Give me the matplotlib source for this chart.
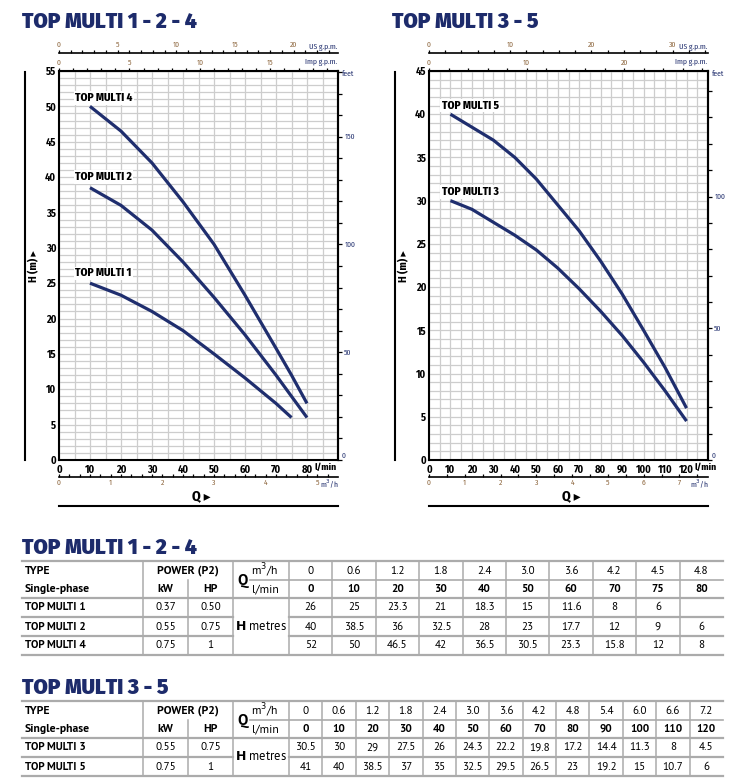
import numpy as np
import matplotlib
matplotlib.use('Agg')
import matplotlib.pyplot as plt

plt.rcParams['font.family'] = ['Fira Sans Condensed', 'DejaVu Sans']

q_m3h_a = [0, 0.6, 1.2, 1.8, 2.4, 3.0, 3.6, 4.2, 4.5, 4.8]
q_lmin_a = [0, 10, 20, 30, 40, 50, 60, 70, 75, 80]
names_a = ['TOP MULTI 1', 'TOP MULTI 2', 'TOP MULTI 4']
kw_a = ['0.37', '0.55', '0.75']
hp_a = ['0.50', '0.75', '1']
h_multi1 = [26, 25, 23.3, 21, 18.3, 15, 11.6, 8, 6, None]
h_multi2 = [40, 38.5, 36, 32.5, 28, 23, 17.7, 12, 9, 6]
h_multi4 = [52, 50, 46.5, 42, 36.5, 30.5, 23.3, 15.8, 12, 8]

q_m3h_b = [0, 0.6, 1.2, 1.8, 2.4, 3.0, 3.6, 4.2, 4.8, 5.4, 6.0, 6.6, 7.2]
q_lmin_b = [0, 10, 20, 30, 40, 50, 60, 70, 80, 90, 100, 110, 120]
names_b = ['TOP MULTI 3', 'TOP MULTI 5']
kw_b = ['0.55', '0.75']
hp_b = ['0.75', '1']
h_multi3 = [30.5, 30, 29, 27.5, 26, 24.3, 22.2, 19.8, 17.2, 14.4, 11.3, 8, 4.5]
h_multi5 = [41, 40, 38.5, 37, 35, 32.5, 29.5, 26.5, 23, 19.2, 15, 10.7, 6]

NAVY = '#1d2b6b'
CURVE = '#1f2e6e'
BROWN = '#8a6238'
GRID = '#cdcdcd'
TGREY = '#ababab'

W, H = 755, 779
fig = plt.figure(figsize=(W / 100, H / 100), dpi=100)
ov = fig.add_axes([0, 0, 1, 1], zorder=-1)
ov.set_xlim(0, W)
ov.set_ylim(H, 0)
ov.axis('off')


def rect(x0, y0, x1, y1):
    return [x0 / W, 1 - y1 / H, (x1 - x0) / W, (y1 - y0) / H]


def chart(x0, x1, q, curves, names, lab_pos, xmax, ymax, xlab_max,
          imp_step, imp_lab, us_step, us_lab, m3_step, m3_max, title):
    y0, y1 = 71, 460
    ax = fig.add_axes(rect(x0, y0, x1, y1))
    ax.set_xlim(0, xmax)
    ax.set_ylim(0, ymax)
    ax.set_xticks(np.arange(0, xlab_max + 1, 10),
                  [str(v) for v in range(0, xlab_max + 1, 10)],
                  fontweight='bold', fontsize=7.5)
    ax.set_xticks(np.arange(0, xmax + 0.1, 5), minor=True)
    ax.set_yticks(np.arange(0, ymax + 1, 5),
                  [str(v) for v in range(0, ymax + 1, 5)],
                  fontweight='bold', fontsize=7.5)
    ax.set_yticks(np.arange(0, ymax + 0.1, 1), minor=True)
    ax.grid(which='both', color=GRID, lw=0.9)
    ax.set_axisbelow(True)
    ax.tick_params(which='both', length=0, pad=2)
    ax.tick_params(axis='x', pad=3)
    for s in ax.spines.values():
        s.set_linewidth(1.5)

    for hh, nm, (lx, ly) in zip(curves, names, lab_pos):
        xs = [a for a, b in zip(q, hh) if b is not None and a > 0]
        ys = [b for a, b in zip(q, hh) if b is not None and a > 0]
        ax.plot(xs, ys, color=CURVE, lw=2.3, solid_capstyle='butt',
                solid_joinstyle='round')
        ax.text(lx, ly, nm, fontsize=8, fontweight=800, va='center',
                bbox=dict(fc='white', ec='none', pad=1))

    # feet axis (the 0 label is placed by hand, slightly raised)
    fa = ax.secondary_yaxis('right', functions=(lambda m: m * 3.28084,
                                                lambda f: f / 3.28084))
    fmax = ymax * 3.28084
    fa.set_yticks([v for v in range(50, int(fmax) + 1, 50)],
                  [str(v) for v in range(50, int(fmax) + 1, 50)],
                  fontsize=5.5, color=NAVY)
    fa.set_yticks(np.arange(0, fmax, 10), minor=True)
    fa.tick_params(which='both', direction='out', length=3, width=0.9, pad=1.5)
    fa.spines['right'].set_linewidth(1.5)

    # Imp gpm (top of frame)
    ia = ax.secondary_xaxis('top', functions=(lambda l: l / 4.546,
                                               lambda g: g * 4.546))
    imax = xmax / 4.546
    ia.set_xticks(imp_lab, [str(v) for v in imp_lab], fontsize=5.5, color=BROWN)
    ia.set_xticks(np.arange(0, imax, imp_step), minor=True)
    ia.tick_params(which='both', direction='out', length=2.5, width=0.9, pad=1)

    # US gpm (separate line above)
    ua = ax.secondary_xaxis(1 + 18 / (y1 - y0), functions=(lambda l: l / 3.785,
                                                            lambda g: g * 3.785))
    umax = xmax / 3.785
    ua.set_xticks(us_lab, [str(v) for v in us_lab], fontsize=5.5, color=BROWN)
    ua.set_xticks(np.arange(0, umax, us_step), minor=True)
    ua.tick_params(which='both', direction='out', length=2.5, width=0.9, pad=1)
    ua.spines['top'].set_linewidth(1.2)

    # m3/h below
    ma = ax.secondary_xaxis(-17 / (y1 - y0), functions=(lambda l: l * 0.06,
                                                         lambda m: m / 0.06))
    ma.set_xticks(range(0, m3_max + 1), [str(v) for v in range(0, m3_max + 1)],
                  fontsize=5.5, color=BROWN)
    ma.set_xticks(np.arange(0, xmax * 0.06, m3_step), minor=True)
    ma.tick_params(which='both', direction='in', length=2.5, width=0.9, pad=1.5)
    ma.spines['bottom'].set_linewidth(1.2)

    # unit labels and decorations
    xl = x0 + (x1 - x0) * xlab_max / xmax + 7.5
    ov.text(x1 - 1, 47, 'US g.p.m.', fontsize=5.5, color=NAVY, ha='right', va='center')
    ov.text(x1 - 1, 62, 'Imp g.p.m.', fontsize=5.5, color=NAVY, ha='right', va='center')
    ov.text(x1 + 4, 74, 'feet', fontsize=5.5, color=NAVY, ha='left', va='center')
    ov.text(x1 + 4, 456, '0', fontsize=5.5, color=NAVY, ha='left', va='center')
    ov.text(xl, 467, 'l/min', fontsize=7, fontweight='bold', ha='left', va='center')
    ov.text(x1 + 1, 484, 'm$^3$/h', fontsize=5.5, color=NAVY, ha='right', va='center')
    cx = (x0 + x1) / 2
    ov.text(cx + 3, 496, 'Q \u25B8', fontsize=10, fontweight='bold', ha='center', va='center')
    ov.plot([x0, x1], [506, 506], color='black', lw=1.5)
    ov.plot([x0 - 34, x0 - 34], [72, 460], color='black', lw=1.5)
    ov.text(x0 - 25, 266, 'H (m) \u25B8', fontsize=8, fontweight='bold', rotation=90,
            ha='center', va='center')
    ov.text(x0 - 37, 22, title, fontsize=15, fontweight=900, color=NAVY,
            family='Fira Sans', ha='left', va='center')
    return ax


chart(59, 338, q_lmin_a, [h_multi4, h_multi2, h_multi1],
      ['TOP MULTI 4', 'TOP MULTI 2', 'TOP MULTI 1'],
      [(5.2, 51.2), (5.2, 40.0), (5.2, 26.4)],
      90, 55, 80, 1, [0, 5, 10, 15], 1, [0, 5, 10, 15, 20], 0.2, 5,
      'TOP MULTI 1 - 2 - 4')
chart(429, 708, q_lmin_b, [h_multi5, h_multi3],
      ['TOP MULTI 5', 'TOP MULTI 3'],
      [(5.9, 41.0), (5.9, 31.0)],
      130, 45, 120, 2, [0, 10, 20], 2, [0, 10, 20, 30], 0.5, 7,
      'TOP MULTI 3 - 5')


def fmt(v):
    if v is None:
        return ''
    return '%g' % v


def fmt_q(v):
    return '0' if v == 0 else '%.1f' % v


def table(y0, title, names, kw, hp, m3h, lmin, heads):
    n = len(m3h)
    xv0, xend = 289, 723
    cw = (xend - xv0) / n
    ysp = y0 + 18.5
    yh = y0 + 37
    rh = 19
    yb = yh + rh * len(names)
    tf = dict(family=['PT Sans', 'DejaVu Sans'])

    ov.text(22, y0 - 13, title, fontsize=15, fontweight=900, color=NAVY,
            family='Fira Sans', ha='left', va='center')
    # horizontal lines
    for y in (y0, yh, yb):
        ov.plot([22, xend], [y, y], color=TGREY, lw=1.6)
    for i in range(1, len(names)):
        y = yh + rh * i
        ov.plot([22, 233], [y, y], color=TGREY, lw=1.6)
        ov.plot([289, xend], [y, y], color=TGREY, lw=1.6)
    ov.plot([250, xend], [ysp, ysp], color=TGREY, lw=1.2)
    # vertical lines
    for x in (143, 233, 289):
        ov.plot([x, x], [y0, yb], color=TGREY, lw=1.1)
    ov.plot([188, 188], [ysp, yb], color=TGREY, lw=1.1)
    for i in range(1, n):
        x = xv0 + cw * i
        ov.plot([x, x], [y0, yb], color=TGREY, lw=1.1)

    # header
    r1, r2 = y0 + 9.5, y0 + 28
    ov.text(25, r1, 'TYPE', fontsize=8.5, fontweight='bold', va='center', **tf)
    ov.text(25, r2, 'Single-phase', fontsize=8.5, fontweight='bold', va='center', **tf)
    ov.text(188, r1, 'POWER (P2)', fontsize=8.5, fontweight='bold', ha='center', va='center', **tf)
    ov.text(165.5, r2, 'kW', fontsize=8.5, fontweight='bold', ha='center', va='center', **tf)
    ov.text(210.5, r2, 'HP', fontsize=8.5, fontweight='bold', ha='center', va='center', **tf)
    ov.text(242, ysp + 1, 'Q', fontsize=11, fontweight='bold', ha='center', va='center', **tf)
    ov.text(251, r1, 'm$^3$/h', fontsize=8.5, ha='left', va='center', **tf)
    ov.text(252, r2, 'l/min', fontsize=8.5, ha='left', va='center', **tf)
    for i in range(n):
        cx = xv0 + cw * (i + 0.5)
        ov.text(cx, r1, fmt_q(m3h[i]), fontsize=8, ha='center', va='center', **tf)
        ov.text(cx, r2, str(lmin[i]), fontsize=8, fontweight='bold', ha='center', va='center', **tf)

    # rows
    for j, nm in enumerate(names):
        yc = yh + rh * (j + 0.5)
        ov.text(25, yc, nm, fontsize=8, fontweight='bold', va='center', **tf)
        ov.text(165.5, yc, kw[j], fontsize=8, ha='center', va='center', **tf)
        ov.text(210.5, yc, hp[j], fontsize=8, ha='center', va='center', **tf)
        for i in range(n):
            cx = xv0 + cw * (i + 0.5)
            ov.text(cx, yc, fmt(heads[j][i]), fontsize=8, ha='center', va='center', **tf)
    ov.text(261, (yh + yb) / 2, r'$\mathbf{H}$ metres', fontsize=9, ha='center', va='center', **tf)


table(561, 'TOP MULTI 1 - 2 - 4', names_a, kw_a, hp_a, q_m3h_a, q_lmin_a,
      [h_multi1, h_multi2, h_multi4])
table(701, 'TOP MULTI 3 - 5', names_b, kw_b, hp_b, q_m3h_b, q_lmin_b,
      [h_multi3, h_multi5])

fig.savefig('out.png', dpi=100)
